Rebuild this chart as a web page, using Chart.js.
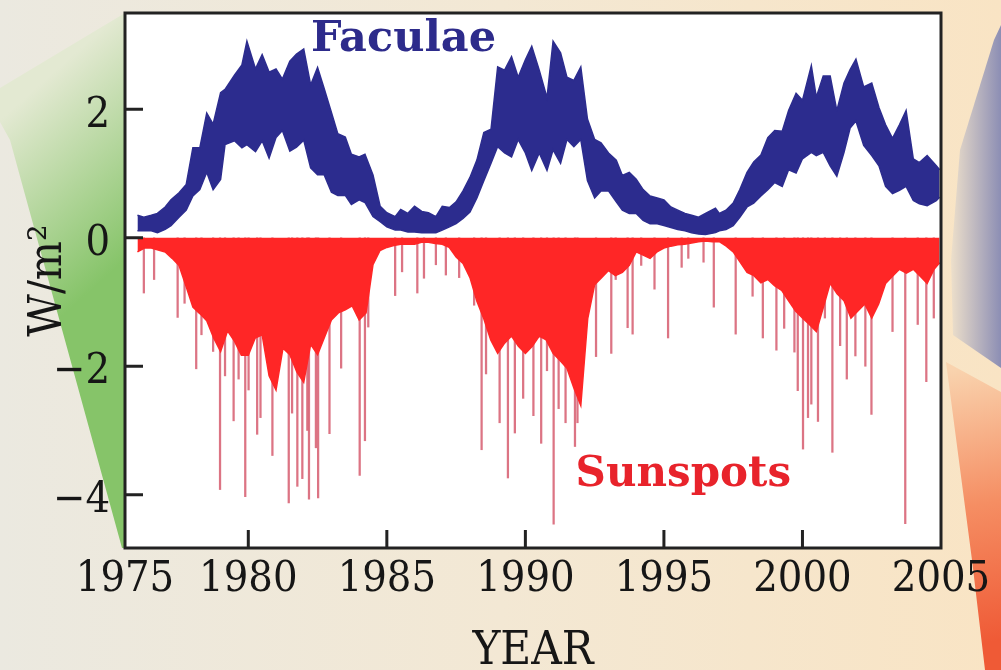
<!DOCTYPE html>
<html lang="en">
<head>
<meta charset="utf-8">
<title>Faculae and sunspots</title>
<script src="https://cdn.jsdelivr.net/npm/chart.js@4.4.1/dist/chart.umd.min.js"></script>
<style>
  html, body { margin: 0; padding: 0; background: #f1e8d8; }
  #grafico { display: block; }
</style>
</head>
<body>
<canvas id="grafico" width="1001" height="670"></canvas>
<script>
// faculae: upper and lower edge of the daily scatter (W/m2)
const facYears = [1976.00, 1976.23, 1976.50, 1976.72, 1977.00, 1977.21, 1977.50, 1977.76, 1978.00, 1978.25,
  1978.50, 1978.73, 1979.00, 1979.16, 1979.50, 1979.77, 1979.95, 1980.26, 1980.50, 1980.75,
  1981.00, 1981.23, 1981.50, 1981.74, 1982.00, 1982.25, 1982.50, 1982.74, 1983.00, 1983.23,
  1983.50, 1983.72, 1984.00, 1984.21, 1984.50, 1984.76, 1985.00, 1985.30, 1985.50, 1985.76,
  1986.00, 1986.26, 1986.50, 1986.77, 1987.00, 1987.26, 1987.50, 1987.75, 1988.00, 1988.25,
  1988.50, 1988.76, 1989.00, 1989.25, 1989.50, 1989.74, 1990.00, 1990.23, 1990.50, 1990.78,
  1991.00, 1991.27, 1991.50, 1991.75, 1992.00, 1992.24, 1992.50, 1992.73, 1993.00, 1993.28,
  1993.50, 1993.75, 1994.00, 1994.25, 1994.50, 1994.76, 1995.00, 1995.25, 1995.50, 1995.76,
  1996.00, 1996.25, 1996.50, 1996.86, 1997.00, 1997.24, 1997.50, 1997.74, 1998.00, 1998.24,
  1998.50, 1998.75, 1999.00, 1999.27, 1999.50, 1999.77, 2000.00, 2000.32, 2000.50, 2000.75,
  2001.00, 2001.24, 2001.50, 2001.72, 2001.93, 2002.21, 2002.50, 2002.76, 2003.00, 2003.25,
  2003.50, 2003.74, 2004.00, 2004.22, 2004.50, 2004.83, 2004.95];
const facHigh = [0.35, 0.32, 0.35, 0.38, 0.48, 0.59, 0.70, 0.83, 1.40, 1.40,
  1.94, 1.77, 2.26, 2.31, 2.53, 2.69, 3.06, 2.63, 2.85, 2.58,
  2.63, 2.47, 2.75, 2.86, 2.94, 2.38, 2.65, 2.32, 1.95, 1.62,
  1.57, 1.30, 1.26, 1.30, 0.98, 0.49, 0.39, 0.33, 0.44, 0.38,
  0.49, 0.41, 0.39, 0.33, 0.49, 0.47, 0.56, 0.73, 0.94, 1.21,
  1.64, 1.69, 2.66, 2.61, 2.82, 2.50, 2.77, 2.98, 2.61, 2.18,
  3.06, 2.88, 2.50, 2.45, 2.66, 1.85, 1.53, 1.48, 1.32, 1.21,
  0.97, 1.02, 0.91, 0.75, 0.65, 0.62, 0.59, 0.48, 0.43, 0.38,
  0.35, 0.32, 0.38, 0.46, 0.38, 0.43, 0.54, 0.75, 1.02, 1.18,
  1.29, 1.56, 1.67, 1.66, 1.98, 2.25, 2.14, 2.68, 2.19, 2.52,
  2.52, 1.98, 2.41, 2.62, 2.78, 2.35, 2.41, 2.03, 1.76, 1.55,
  1.76, 1.98, 1.23, 1.17, 1.28, 1.12, 1.06];
const facLow = [0.11, 0.11, 0.11, 0.08, 0.13, 0.19, 0.32, 0.43, 0.65, 0.75,
  1.02, 0.75, 0.91, 1.45, 1.51, 1.40, 1.45, 1.34, 1.51, 1.24,
  1.56, 1.67, 1.35, 1.41, 1.52, 1.09, 0.98, 0.98, 0.71, 0.66,
  0.66, 0.52, 0.59, 0.55, 0.33, 0.25, 0.17, 0.12, 0.12, 0.09,
  0.09, 0.08, 0.08, 0.08, 0.12, 0.17, 0.22, 0.30, 0.40, 0.62,
  0.89, 1.16, 1.42, 1.32, 1.26, 1.53, 1.32, 1.05, 1.32, 1.05,
  1.37, 1.16, 1.53, 1.42, 1.53, 0.89, 0.62, 0.73, 0.73, 0.56,
  0.43, 0.38, 0.38, 0.27, 0.22, 0.22, 0.19, 0.16, 0.13, 0.11,
  0.08, 0.06, 0.05, 0.08, 0.11, 0.13, 0.19, 0.32, 0.48, 0.54,
  0.65, 0.75, 0.86, 0.80, 1.06, 1.01, 1.23, 1.33, 1.28, 1.33,
  1.12, 0.96, 1.33, 1.71, 1.82, 1.44, 1.28, 1.12, 0.80, 0.69,
  0.74, 0.80, 0.58, 0.53, 0.50, 0.58, 0.63];

// sunspots: lower edge of the dense band (W/m2)
const spotYears = [1976.00, 1976.25, 1976.50, 1976.75, 1977.00, 1977.25, 1977.50, 1977.75, 1978.00, 1978.25,
  1978.50, 1978.75, 1979.00, 1979.25, 1979.50, 1979.75, 1980.00, 1980.25, 1980.50, 1980.75,
  1981.00, 1981.25, 1981.50, 1981.75, 1982.00, 1982.25, 1982.50, 1982.75, 1983.00, 1983.25,
  1983.50, 1983.75, 1984.00, 1984.25, 1984.50, 1984.75, 1985.00, 1985.25, 1985.50, 1985.75,
  1986.00, 1986.25, 1986.50, 1986.75, 1987.00, 1987.25, 1987.50, 1987.75, 1988.00, 1988.25,
  1988.50, 1988.75, 1989.00, 1989.25, 1989.50, 1989.75, 1990.00, 1990.25, 1990.50, 1990.75,
  1991.00, 1991.25, 1991.50, 1991.75, 1992.00, 1992.25, 1992.50, 1992.75, 1993.00, 1993.25,
  1993.50, 1993.75, 1994.00, 1994.25, 1994.50, 1994.75, 1995.00, 1995.25, 1995.50, 1995.75,
  1996.00, 1996.25, 1996.50, 1996.75, 1997.00, 1997.25, 1997.50, 1997.75, 1998.00, 1998.25,
  1998.50, 1998.75, 1999.00, 1999.25, 1999.50, 1999.75, 2000.00, 2000.25, 2000.50, 2000.75,
  2001.00, 2001.25, 2001.50, 2001.75, 2002.00, 2002.25, 2002.50, 2002.75, 2003.00, 2003.25,
  2003.50, 2003.75, 2004.00, 2004.25, 2004.50, 2004.75, 2004.95];
const spotLow = [-0.22, -0.16, -0.16, -0.19, -0.22, -0.32, -0.43, -0.75, -1.08, -1.18,
  -1.29, -1.56, -1.77, -1.45, -1.61, -1.83, -1.83, -1.56, -1.51, -2.15,
  -2.37, -1.72, -1.82, -2.09, -2.25, -1.66, -1.82, -1.55, -1.28, -1.17,
  -1.12, -1.06, -1.28, -1.17, -0.42, -0.20, -0.15, -0.12, -0.10, -0.10,
  -0.10, -0.07, -0.07, -0.09, -0.10, -0.15, -0.30, -0.40, -0.62, -0.99,
  -1.26, -1.59, -1.80, -1.64, -1.53, -1.69, -1.80, -1.69, -1.53, -1.59,
  -1.80, -1.91, -2.03, -2.34, -2.61, -1.26, -0.73, -0.62, -0.51, -0.59,
  -0.54, -0.43, -0.22, -0.27, -0.32, -0.22, -0.16, -0.13, -0.11, -0.10,
  -0.08, -0.06, -0.05, -0.06, -0.06, -0.13, -0.22, -0.38, -0.54, -0.59,
  -0.70, -0.65, -0.75, -0.82, -0.98, -1.14, -1.25, -1.35, -1.46, -1.09,
  -0.71, -0.87, -0.98, -1.25, -1.14, -1.03, -1.25, -1.03, -0.71, -0.60,
  -0.49, -0.55, -0.49, -0.60, -0.71, -0.49, -0.39];

// sunspots: single deep days below the band
const spikeYears = [1976.23, 1976.60, 1977.45, 1977.70, 1978.12, 1978.31, 1978.73, 1978.98, 1979.16, 1979.47,
  1979.65, 1979.89, 1980.01, 1980.32, 1980.44, 1980.87, 1981.46, 1981.58, 1981.77, 1981.95,
  1982.13, 1982.19, 1982.44, 1982.52, 1982.93, 1983.35, 1984.02, 1984.21, 1984.33, 1985.30,
  1985.55, 1986.10, 1986.34, 1986.77, 1987.13, 1987.61, 1988.15, 1988.42, 1988.58, 1989.07,
  1989.37, 1989.62, 1989.92, 1990.29, 1990.57, 1990.78, 1991.02, 1991.20, 1991.45, 1991.79,
  1991.88, 1992.55, 1993.10, 1993.26, 1993.69, 1993.87, 1994.18, 1994.66, 1995.15, 1995.64,
  1995.88, 1996.43, 1996.80, 1997.59, 1998.20, 1998.57, 1999.06, 1999.34, 1999.71, 1999.83,
  2000.02, 2000.20, 2000.32, 2000.56, 2000.81, 2001.08, 2001.36, 2001.60, 2001.91, 2002.27,
  2002.49, 2003.25, 2003.71, 2004.16, 2004.47, 2004.74];
const spikeValues = [-0.86, -0.65, -1.24, -1.02, -2.04, -1.51, -1.77, -3.92, -2.15, -2.85,
  -2.20, -4.03, -2.37, -3.06, -2.80, -3.39, -4.13, -2.73, -3.87, -3.75,
  -3.00, -4.07, -3.27, -4.05, -3.05, -2.03, -3.70, -3.16, -1.39, -0.90,
  -0.53, -0.86, -0.63, -0.42, -0.58, -0.62, -1.05, -3.30, -2.12, -2.88,
  -3.74, -3.04, -2.50, -2.77, -3.20, -2.07, -4.46, -2.66, -2.88, -3.25,
  -2.88, -1.85, -1.80, -0.65, -1.40, -1.50, -0.43, -0.80, -1.56, -0.46,
  -0.32, -0.38, -1.08, -1.50, -0.91, -1.56, -1.75, -1.41, -1.78, -2.38,
  -3.29, -2.80, -2.59, -2.86, -1.25, -3.34, -1.68, -2.20, -1.84, -2.00,
  -2.75, -1.46, -4.45, -1.35, -2.24, -1.25];

const xTickYears = [1975, 1980, 1985, 1990, 1995, 2000, 2005];
const yTickValues = [-4, -2, 0, 2];

const X_MIN = 1975.55, X_MAX = 2005;
const Y_MIN = -4.83, Y_MAX = 3.5;

const azul = "#2c2c8e";
const rojo = "#ff2626";
const rosa = "rgba(214, 92, 110, 0.85)";
const tinta = "#161616";
const serif = "'DejaVu Serif Condensed', 'Liberation Serif', serif";

const aPuntos = (xs, ys) => xs.map((x, i) => ({ x: x, y: ys[i] }));

// slide background: beige base, green wedge left, blue and orange shapes right
const fondo = {
  id: "fondo",
  beforeDraw(chart) {
    const c = chart.ctx;
    const w = chart.width, h = chart.height;
    const area = chart.chartArea;
    c.save();
    let g = c.createLinearGradient(0, 0, w, 0);
    g.addColorStop(0, "#ebe9e0");
    g.addColorStop(0.5, "#f3e8d4");
    g.addColorStop(1, "#f9e4c4");
    c.fillStyle = g;
    c.fillRect(0, 0, w, h);

    g = c.createLinearGradient(0, 120, area.left, 260);
    g.addColorStop(0, "#e3e9d2");
    g.addColorStop(1, "#86c469");
    c.fillStyle = g;
    c.beginPath();
    c.moveTo(area.left, area.top);
    c.lineTo(0, 88);
    c.lineTo(0, 122);
    c.lineTo(10, 140);
    c.lineTo(area.left - 3, area.bottom);
    c.lineTo(area.left, area.bottom);
    c.closePath();
    c.fill();

    g = c.createLinearGradient(950, 0, w, 0);
    g.addColorStop(0, "#efe1cb");
    g.addColorStop(1, "#8c8eb4");
    c.fillStyle = g;
    c.beginPath();
    c.moveTo(w, 25);
    c.lineTo(994, 40);
    c.lineTo(960, 150);
    c.lineTo(951, 260);
    c.lineTo(953, 335);
    c.lineTo(w, 368);
    c.closePath();
    c.fill();

    g = c.createLinearGradient(950, 370, w, 640);
    g.addColorStop(0, "#f9d3ae");
    g.addColorStop(0.5, "#f58e63");
    g.addColorStop(1, "#ef5a36");
    c.fillStyle = g;
    c.beginPath();
    c.moveTo(946, 362);
    c.lineTo(w, 392);
    c.lineTo(w, h);
    c.lineTo(985, h);
    c.lineTo(972, 560);
    c.closePath();
    c.fill();

    c.fillStyle = "#ffffff";
    c.fillRect(area.left, area.top, area.right - area.left, area.bottom - area.top);
    c.restore();
  },
};

// frame with inward ticks and the two series names
const marco = {
  id: "marco",
  afterDatasetsDraw(chart) {
    const c = chart.ctx;
    const a = chart.chartArea;
    const xs = chart.scales.x, ys = chart.scales.y;
    c.save();
    c.strokeStyle = "#222";
    c.lineWidth = 3;
    c.beginPath();
    xTickYears.forEach((yr) => {
      if (yr <= X_MIN || yr >= X_MAX) return;
      const px = xs.getPixelForValue(yr);
      c.moveTo(px, a.bottom);
      c.lineTo(px, a.bottom - 18);
    });
    yTickValues.forEach((v) => {
      const py = ys.getPixelForValue(v);
      c.moveTo(a.left, py);
      c.lineTo(a.left + 18, py);
    });
    c.stroke();
    c.strokeRect(a.left, a.top, a.right - a.left, a.bottom - a.top);

    c.font = "bold 43px 'DejaVu Serif', serif";
    c.textAlign = "center";
    c.textBaseline = "middle";
    c.fillStyle = "#2d2b8b";
    c.fillText("Faculae", xs.getPixelForValue(1985.6), ys.getPixelForValue(3.08));
    c.fillStyle = "#e8232b";
    c.font = "bold 42px 'DejaVu Serif', serif";
    c.fillText("Sunspots", xs.getPixelForValue(1995.7), ys.getPixelForValue(-3.69));
    c.restore();
  },
};

new Chart(document.getElementById("grafico"), {
  type: "line",
  data: {
    datasets: [
      {
        label: "Faculae low",
        data: aPuntos(facYears, facLow),
        borderColor: azul,
        borderWidth: 1.5,
        pointRadius: 0,
        fill: false,
      },
      {
        label: "Faculae",
        data: aPuntos(facYears, facHigh),
        borderColor: azul,
        backgroundColor: azul,
        borderWidth: 1.5,
        pointRadius: 0,
        fill: "-1",
      },
      {
        label: "Sunspots",
        data: aPuntos(spotYears, spotLow),
        borderColor: rojo,
        backgroundColor: rojo,
        borderWidth: 1.5,
        pointRadius: 0,
        fill: "origin",
      },
      {
        type: "bar",
        label: "Sunspot days",
        data: aPuntos(spikeYears, spikeValues),
        backgroundColor: rosa,
        borderWidth: 0,
        barThickness: 1.6,
      },
    ],
  },
  options: {
    responsive: false,
    animation: false,
    devicePixelRatio: 1,
    layout: { padding: { top: 13, right: 60, left: 0, bottom: 0 } },
    plugins: {
      legend: { display: false },
      tooltip: { enabled: false },
    },
    scales: {
      x: {
        type: "linear",
        min: X_MIN,
        max: X_MAX,
        offset: false,
        grid: { display: false, drawTicks: false },
        border: { display: false },
        afterBuildTicks: (scale) => {
          scale.ticks = xTickYears.map((yr) => ({ value: Math.max(yr, X_MIN) }));
        },
        afterFit: (scale) => {
          scale.height = 122;
          scale.paddingLeft = 0;
          scale.paddingRight = 0;
        },
        ticks: {
          autoSkip: false,
          maxRotation: 0,
          padding: 6,
          color: tinta,
          font: { family: serif, size: 43 },
          callback: (value, index) => String(xTickYears[index]),
        },
        title: {
          display: true,
          text: "YEAR",
          color: tinta,
          font: { family: serif, size: 47, lineHeight: 1 },
          padding: { top: 0, bottom: -5 },
        },
      },
      y: {
        type: "linear",
        min: Y_MIN,
        max: Y_MAX,
        grid: { display: false, drawTicks: false },
        border: { display: false },
        afterBuildTicks: (scale) => {
          scale.ticks = yTickValues.map((v) => ({ value: v }));
        },
        afterFit: (scale) => {
          scale.width = 125;
          scale.paddingTop = 0;
          scale.paddingBottom = 0;
        },
        ticks: {
          padding: 15,
          labelOffset: 6,
          color: tinta,
          font: { family: serif, size: 43 },
          callback: (value) => (value < 0 ? "\u2212" + Math.abs(value) : String(value)),
        },
        title: {
          display: true,
          text: "W/m\u00b2",
          color: tinta,
          font: { family: serif, size: 46, lineHeight: 1 },
          padding: { top: 26, bottom: 0 },
        },
      },
    },
  },
  plugins: [fondo, marco],
});
</script>
</body>
</html>
